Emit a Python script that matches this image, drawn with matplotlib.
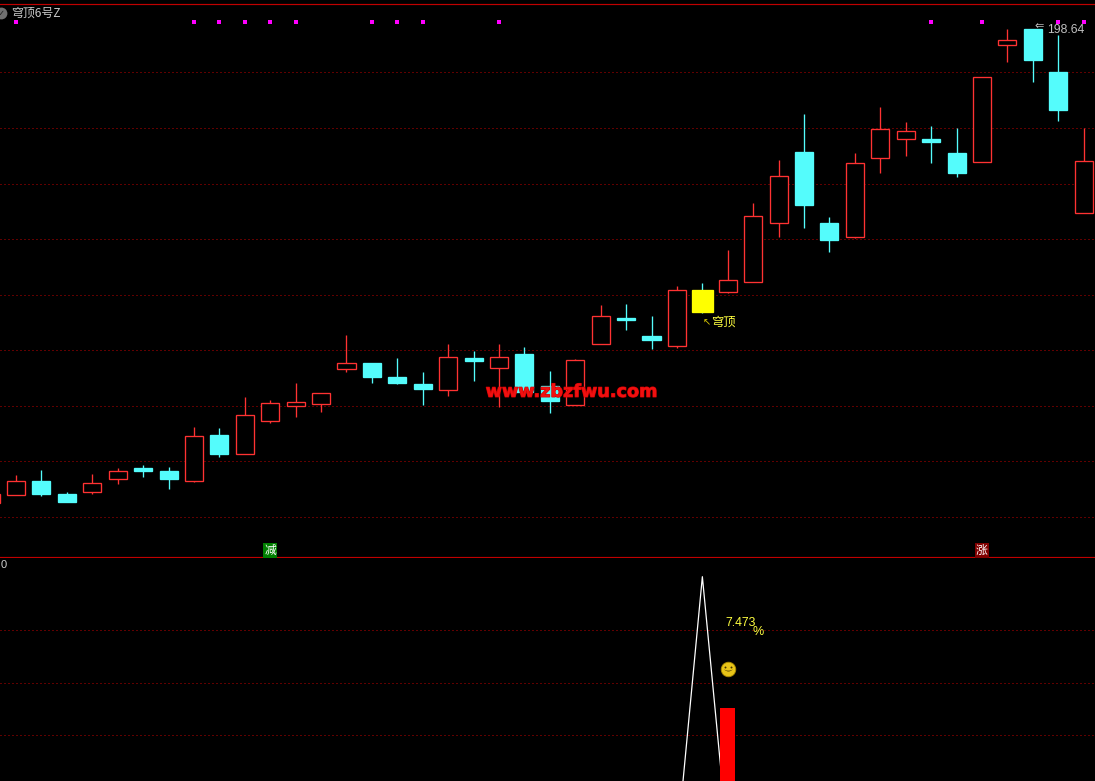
import matplotlib
matplotlib.use('Agg')
import matplotlib.pyplot as plt
import matplotlib.patheffects as pe
from matplotlib.patches import Rectangle
from matplotlib.transforms import offset_copy

W, H = 1095, 781
SPLIT = 557.5

# candles, one entry per bar
opens = [28, 30.88, 35.92, 31.24, 31.96, 36.64, 40.6, 39.52, 35.92, 52.48, 45.64, 57.52, 62.92, 63.64, 76.24,
         78.4, 73.36, 70.84, 68.68, 80.2, 76.6, 81.64, 70.12, 63.28, 85.24, 94.6, 88.12, 84.52, 104.68, 103.96,
         107.56, 128.8, 154.36, 128.8, 123.76, 152.2, 159.04, 159.04, 154, 150.76, 192.88, 198.64, 183.16, 132.4]
closes = [31.24, 35.92, 31.24, 28.36, 35.2, 39.52, 39.52, 36.64, 52.12, 45.64, 59.68, 64, 64.36, 67.6, 78.4,
          73.36, 71.2, 69.04, 80.56, 79.12, 80.56, 67.96, 64.72, 79.48, 95.32, 93.88, 86.68, 104.68, 96.76, 108.28,
          131.32, 145.72, 135.28, 122.68, 150.4, 162.64, 161.92, 157.96, 146.8, 181.36, 194.68, 187.48, 169.48, 151.12]
highs = [32.68, 38.08, 39.88, 31.96, 38.44, 40.6, 41.68, 40.96, 55.36, 55, 66.16, 65.08, 71.2, 67.6, 88.48,
         78.4, 80.2, 75.16, 85.24, 82.72, 85.24, 84.16, 75.52, 79.84, 99.28, 99.64, 95.32, 106.12, 107.2, 119.08,
         136, 151.48, 168.04, 130.96, 154, 170.56, 165.16, 163.72, 163, 181.36, 198.64, 198.64, 196.48, 163]
lows = [27.64, 30.88, 30.52, 28.36, 31.24, 34.84, 37.36, 33.04, 35.56, 44.56, 45.64, 56.8, 58.96, 60.76, 75.16,
        71.2, 70.84, 63.28, 66.52, 71.92, 62.56, 67.96, 60.4, 63.28, 85.24, 90.28, 83.44, 83.8, 96.4, 103.6,
        107.56, 123.76, 127, 118.36, 123.4, 146.8, 152.92, 150.4, 145.36, 150.76, 186.76, 179.56, 165.52, 132.4]
signal_bars = [1, 8, 9, 10, 11, 12, 15, 16, 17, 20, 37, 39, 42, 43]
yellow_bar = 28
last_price = 198.64
price_grid = [183, 163, 143, 123, 103, 83, 63, 43, 23]

# lower indicator panel
line_bars = [27, 28, 29]
line_values = [2.25, 12.46, 2.4]
bar_index = 29
bar_value = 7.473
smile_value = 8.96
lower_grid = [10.43, 8.43, 6.43]

RED = '#ff3232'
CYAN = '#54fcfc'
GRID = '#c00000'
DOT = (0, (1, 3))
PX = 0.72  # one pixel in points
CANDLE_LW = 0.95
STEP = 25.42  # pixels per bar

fig = plt.figure(figsize=(W / 100, H / 100), dpi=100, facecolor='black')
ax = fig.add_axes([0, 1 - SPLIT / H, 1, SPLIT / H], facecolor='black')
ax2 = fig.add_axes([0, 0, 1, 1 - SPLIT / H], facecolor='black')

# bar 0 sits just off the left edge
x0 = 9.4 / STEP
x1 = (W + 9.4) / STEP
for a in (ax, ax2):
    a.set_xlim(x0, x1)
    a.set_xticks([])
    a.set_yticks([])
    for s in a.spines.values():
        s.set_visible(False)
ax.set_ylim(8.38, 209.08)
ax2.set_ylim(4.69, 13.19)

ax.axhline(207.82, color=GRID, lw=0.85, snap=True)
ax.axhline(8.5, color=GRID, lw=0.85, snap=True)
for g in price_grid:
    ax.axhline(g, color=GRID, lw=PX, ls=DOT, snap=True, zorder=1)
for g in lower_grid:
    ax2.axhline(g, color=GRID, lw=PX, ls=DOT, snap=True, zorder=1)

for i in range(len(opens)):
    o, c, h, l = opens[i], closes[i], highs[i], lows[i]
    top, bot = max(o, c), min(o, c)
    if i == yellow_bar:
        col, face, hw = CYAN, '#ffff00', 0.41
    elif c >= o:
        col, face, hw = RED, 'black', 0.355
    else:
        col, face, hw = CYAN, CYAN, 0.355
    ax.vlines(i, top, h, color=col, lw=CANDLE_LW, snap=True, zorder=2)
    ax.vlines(i, l, bot, color=col, lw=CANDLE_LW, snap=True, zorder=2)
    edge = face if i == yellow_bar else col
    ax.add_patch(Rectangle((i - hw, bot), 2 * hw, top - bot, facecolor=face, edgecolor=edge,
                           lw=CANDLE_LW, snap=True, zorder=3))

ax.scatter(signal_bars, [201.16] * len(signal_bars), marker='s', s=7, color='#ff00ff', linewidths=0, zorder=4)

plt.rcParams['font.family'] = ['Noto Sans CJK SC', 'DejaVu Sans']

# title and icon
yt = ax.get_yaxis_transform()
ax.plot([1 / W], [204.4], transform=yt, marker='o', ms=8.5, color='#707070', mew=0)
ax.text(1.5 / W, 204.4, '✓', transform=yt, color='#202020', fontsize=6, ha='center', va='center', family=['DejaVu Sans'])
ax.text(11 / W, 1 - 13 / SPLIT, '穹顶6号Z', transform=ax.transAxes, color='#c8c8c8', fontsize=8.6, va='center', ha='left')

# last price label
ax.text(1084 / W, 198.3, f'{last_price:.2f}', transform=yt, color='#c0c0c0', fontsize=8.8,
        ha='right', va='center', family=['Liberation Sans'])
ax.text(1039 / W, 199.8, '⇐', transform=yt, color='#c0c0c0', fontsize=8, ha='center',
        va='center', family=['DejaVu Sans'], zorder=5)

# pointer note on the yellow bar
ax.text(yellow_bar, 93.2, '↖', color='#d8c800', fontsize=7, ha='left', va='center', family=['DejaVu Sans'], zorder=5)
ax.text(yellow_bar + 0.34, 93.2, '穹顶', color='#ffff40', fontsize=8.8, ha='left', va='center', zorder=5)

# site watermark
ax.text(571.5 / W, 68.0, 'www.zbzfwu.com', transform=yt, color='#f01010', fontsize=12.7,
        fontweight='bold', ha='center', va='center', family=['DejaVu Sans'], zorder=6,
        path_effects=[pe.withStroke(linewidth=0.8, foreground='#d00000')])

# signal badges above the separator
ax.text(11, 11.0, '减', color='white', fontsize=8.5, ha='center', va='center', zorder=6,
        bbox=dict(boxstyle='square,pad=0.08', fc='#007f00', ec='none'))
ax.text(39, 11.0, '涨', color='white', fontsize=8.5, ha='center', va='center', zorder=6,
        bbox=dict(boxstyle='square,pad=0.08', fc='#800000', ec='none'))

# lower panel
yt2 = ax2.get_yaxis_transform()
ax2.plot(line_bars, line_values, color='white', lw=0.9, zorder=3)
ax2.bar([bar_index], [bar_value - 4.0], bottom=4.0, width=15 / STEP, color='#ff0000', zorder=4)
ax2.text(0.001, 0.965, '0', transform=ax2.transAxes, color='#d0d0d0', fontsize=8, ha='left', va='center',
         family=['Liberation Sans'])
ax2.text(725 / W, 10.68, '7.473', transform=yt2, color='#ffff40', fontsize=8.8,
         ha='left', va='center', family=['Liberation Sans'])
ax2.text(758 / W, 10.36, '%', transform=yt2, color='#ffff40', fontsize=9,
         ha='center', va='center', family=['Liberation Sans'])

# smiley drawn from markers at the bar position
ax2.plot([bar_index], [smile_value], marker='o', ms=10.5, color='#e8c418', mec='#a88800', mew=0.6, zorder=5)
for dx in (-2.1, 2.1):
    tr = offset_copy(ax2.transData, fig=fig, x=dx, y=1.3, units='points')
    ax2.plot([bar_index], [smile_value], marker='o', ms=1.4, color='#403000', mew=0, transform=tr, zorder=6)
tr = offset_copy(ax2.transData, fig=fig, x=0, y=-1.2, units='points')
ax2.plot([bar_index], [smile_value], marker=r'$\smile$', ms=6, color='#403000', mew=0, transform=tr, zorder=6)

fig.savefig('out.png', dpi=100, facecolor='black')
